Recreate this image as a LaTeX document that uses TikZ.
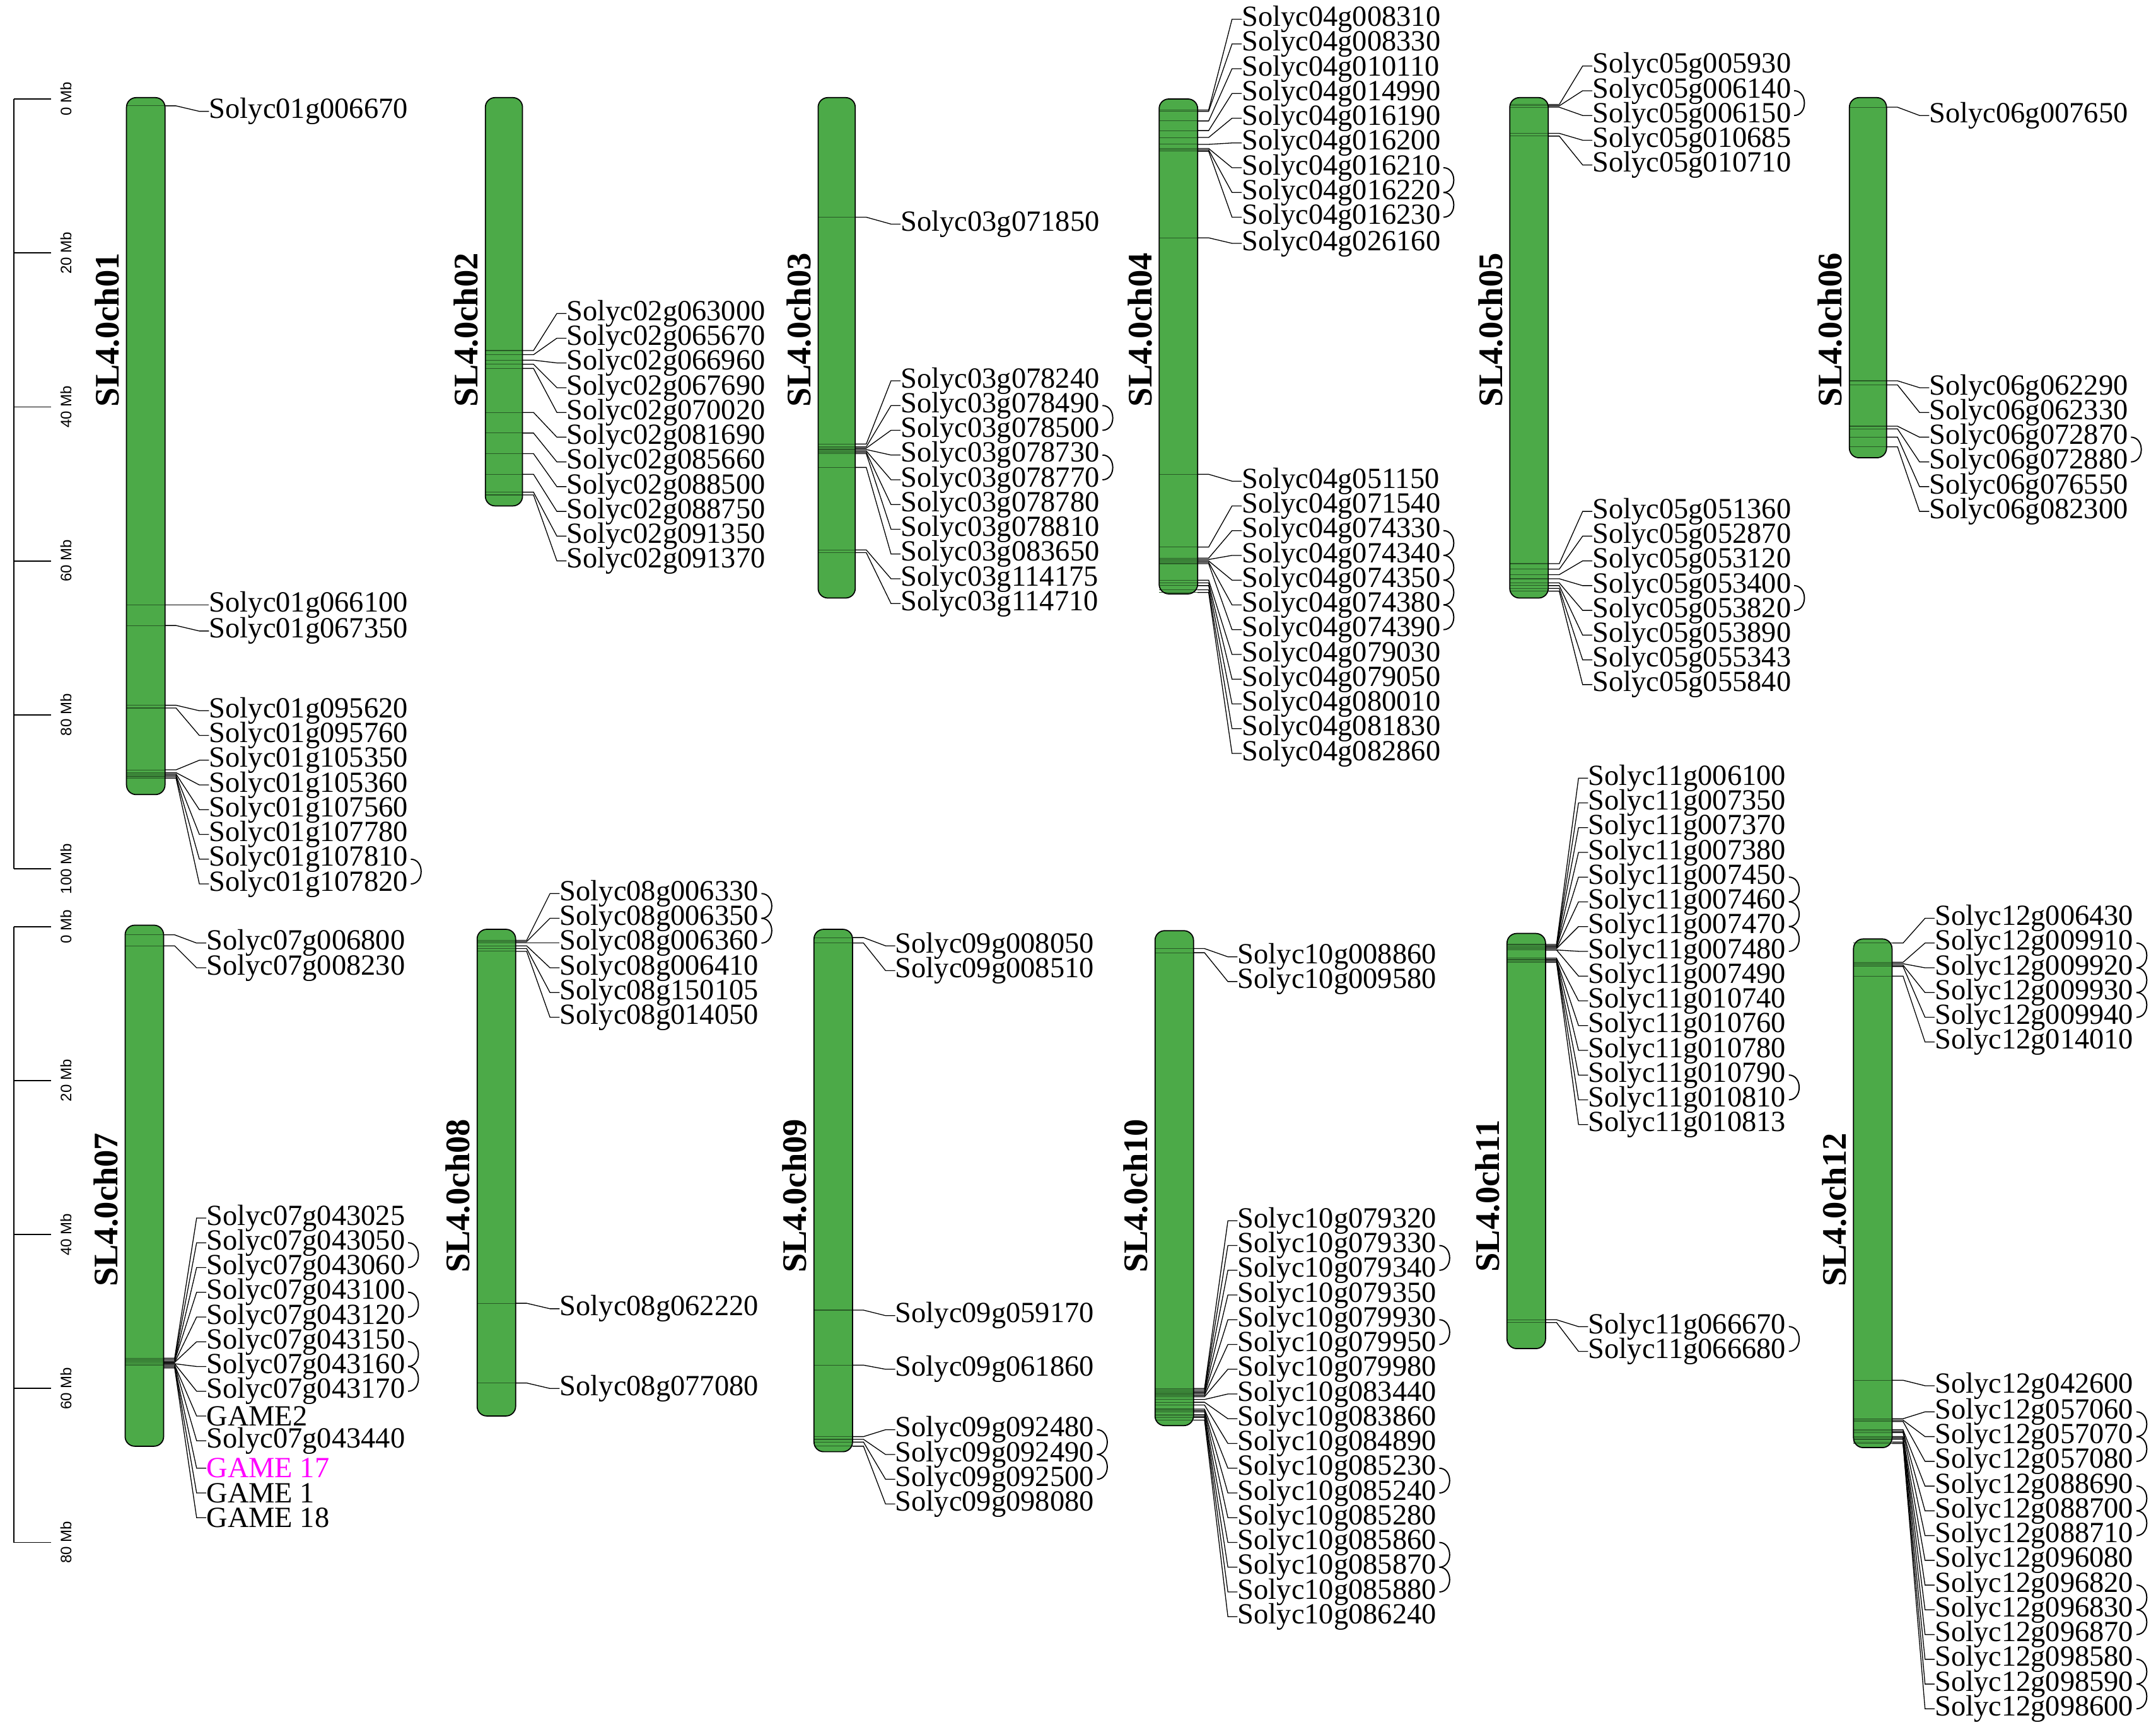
\documentclass[tikz,border=0pt]{standalone}
\usepackage{fontspec}
\setmainfont{Liberation Serif}
\newfontfamily\rulerfont{Liberation Sans}
\definecolor{chrgreen}{RGB}{76,170,72}
\definecolor{bandc}{RGB}{40,90,38}
\definecolor{gm}{RGB}{255,0,255}
\begin{document}
\begin{tikzpicture}[x=1pt,y=-1pt,
 lab/.style={anchor=west,inner sep=0pt,font=\fontsize{21.3}{21}\selectfont},
 conn/.style={line width=0.6pt,black},
 band/.style={line width=0.5pt,bandc},
 chl/.style={rotate=90,font=\bfseries\fontsize{25}{25}\selectfont,inner sep=0pt},
 rl/.style={rotate=90,font=\rulerfont\fontsize{11}{11}\selectfont,inner sep=0pt,anchor=center}]
\useasboundingbox (0,0) rectangle (1568,1258);
\def\bl{0}
\newcommand\C[6]{\def\bl{#1}\def\br{#2}\node[chl] (c#5) at ({#1-14},#6) {SL4.0ch#5};
 \fill[chrgreen,rounded corners=7pt] (#1,#3) rectangle (#2,#4);}
\newcommand\CO[4]{\draw[draw=black,line width=0.8pt,rounded corners=7pt] (#1,#3) rectangle (#2,#4);}
\newcommand\LL[4]{% band y, label x, label y, id
 \draw[band] (\bl,#1) -- (\br,#1);
 \node[lab] (l#4) at (#2,#3) {Solyc#4};
 \draw[conn] (\br,#1) -- ++(8,0) -- ([xshift=-7pt]l#4.west) -- (l#4.west);}
\newcommand\GG[6]{% band y, label x, label y, name, text, color
 \node[lab,text=#6] (#4) at (#2,#3) {#5};
 \draw[conn] (\br,#1) -- ++(8,0) -- ([xshift=-7pt]#4.west) -- (#4.west);}
\newcommand\B[2]{\draw[line width=0.9pt] ([xshift=2pt]l#1.east) .. controls ([xshift=12pt]l#1.east) and ([xshift=12pt]l#2.east) .. ([xshift=2pt]l#2.east);}
% rulers
\draw[line width=0.8pt] (10,72) -- (10,632);
\foreach \y/\t in {72/0 Mb,184/20 Mb,296/40 Mb,408/60 Mb,520/80 Mb,632/100 Mb}{\draw[line width=0.8pt] (10,\y) -- (37,\y); \node[rl] at (48,\y) {\t};}
\draw[line width=0.8pt] (10,674) -- (10,1122);
\foreach \y/\t in {674/0 Mb,786/20 Mb,898/40 Mb,1010/60 Mb,1122/80 Mb}{\draw[line width=0.8pt] (10,\y) -- (37,\y); \node[rl] at (48,\y) {\t};}
% ch01
\C{92}{120}{71}{578}{01}{240}
\LL{77}{152}{81}{01g006670}
\LL{440}{152}{440}{01g066100}
\LL{455}{152}{459}{01g067350}
\LL{513}{152}{517}{01g095620}
\LL{515}{152}{535}{01g095760}
\LL{560}{152}{553}{01g105350}
\LL{562}{152}{571}{01g105360}
\LL{563}{152}{589}{01g107560}
\LL{564}{152}{607}{01g107780}
\LL{565}{152}{625}{01g107810}
\LL{566}{152}{643}{01g107820}
\B{01g107810}{01g107820}
\CO{92}{120}{71}{578}
% ch02
\C{353}{380}{71}{368}{02}{240}
\LL{255}{412}{228}{02g063000}
\LL{258}{412}{246}{02g065670}
\LL{262}{412}{264}{02g066960}
\LL{265}{412}{282}{02g067690}
\LL{268}{412}{300}{02g070020}
\LL{300}{412}{318}{02g081690}
\LL{315}{412}{336}{02g085660}
\LL{330}{412}{354}{02g088500}
\LL{345}{412}{372}{02g088750}
\LL{358}{412}{390}{02g091350}
\LL{360}{412}{408}{02g091370}
\CO{353}{380}{71}{368}
% ch03
\C{595}{622}{71}{435}{03}{240}
\LL{158}{655}{163}{03g071850}
\LL{323}{655}{277}{03g078240}
\LL{325}{655}{295}{03g078490}
\LL{326}{655}{313}{03g078500}
\LL{327}{655}{331}{03g078730}
\LL{328}{655}{349}{03g078770}
\LL{329}{655}{367}{03g078780}
\LL{330}{655}{385}{03g078810}
\LL{340}{655}{403}{03g083650}
\LL{400}{655}{421}{03g114175}
\LL{402}{655}{439}{03g114710}
\B{03g078490}{03g078500}
\B{03g078730}{03g078770}
\CO{595}{622}{71}{435}
% ch04
\C{843}{871}{72}{432}{04}{240}
\LL{80}{903}{14}{04g008310}
\LL{81}{903}{32}{04g008330}
\LL{88}{903}{50}{04g010110}
\LL{95}{903}{68}{04g014990}
\LL{100}{903}{86}{04g016190}
\LL{105}{903}{104}{04g016200}
\LL{108}{903}{122}{04g016210}
\LL{109}{903}{140}{04g016220}
\LL{110}{903}{158}{04g016230}
\LL{173}{903}{177}{04g026160}
\LL{345}{903}{350}{04g051150}
\LL{398}{903}{368}{04g071540}
\LL{406}{903}{386}{04g074330}
\LL{407}{903}{404}{04g074340}
\LL{408}{903}{422}{04g074350}
\LL{409}{903}{440}{04g074380}
\LL{410}{903}{458}{04g074390}
\LL{422}{903}{476}{04g079030}
\LL{424}{903}{494}{04g079050}
\LL{426}{903}{512}{04g080010}
\LL{429}{903}{530}{04g081830}
\LL{431}{903}{548}{04g082860}
\B{04g016210}{04g016220}\B{04g016220}{04g016230}
\B{04g074330}{04g074340}\B{04g074340}{04g074350}\B{04g074350}{04g074380}\B{04g074380}{04g074390}
\CO{843}{871}{72}{432}
% ch05
\C{1098}{1126}{71}{435}{05}{240}
\LL{76}{1158}{48}{05g005930}
\LL{77}{1158}{66}{05g006140}
\LL{78}{1158}{84}{05g006150}
\LL{97}{1158}{102}{05g010685}
\LL{99}{1158}{120}{05g010710}
\LL{410}{1158}{372}{05g051360}
\LL{414}{1158}{390}{05g052870}
\LL{418}{1158}{408}{05g053120}
\LL{421}{1158}{426}{05g053400}
\LL{424}{1158}{444}{05g053820}
\LL{426}{1158}{462}{05g053890}
\LL{428}{1158}{480}{05g055343}
\LL{430}{1158}{498}{05g055840}
\B{05g006140}{05g006150}
\B{05g053400}{05g053820}
\CO{1098}{1126}{71}{435}
% ch06
\C{1345}{1372}{71}{333}{06}{240}
\LL{78}{1403}{84}{06g007650}
\LL{277}{1403}{282}{06g062290}
\LL{280}{1403}{300}{06g062330}
\LL{310}{1403}{318}{06g072870}
\LL{312}{1403}{336}{06g072880}
\LL{318}{1403}{354}{06g076550}
\LL{325}{1403}{372}{06g082300}
\B{06g072870}{06g072880}
\CO{1345}{1372}{71}{333}
% ch07
\C{91}{119}{673}{1052}{07}{880}
\LL{680}{150}{686}{07g006800}
\LL{688}{150}{704}{07g008230}
\LL{988}{150}{886}{07g043025}
\LL{989}{150}{904}{07g043050}
\LL{990}{150}{922}{07g043060}
\LL{990}{150}{940}{07g043100}
\LL{991}{150}{958}{07g043120}
\LL{991}{150}{976}{07g043150}
\LL{992}{150}{994}{07g043160}
\LL{992}{150}{1012}{07g043170}
\GG{993}{150}{1030}{g2}{GAME2}{black}
\LL{993}{150}{1048}{07g043440}
\GG{994}{150}{1068}{g17}{GAME 17}{gm}
\GG{994}{150}{1086}{g1}{GAME 1}{black}
\GG{995}{150}{1104}{g18}{GAME 18}{black}
\B{07g043050}{07g043060}\B{07g043100}{07g043120}\B{07g043150}{07g043160}\B{07g043160}{07g043170}
\CO{91}{119}{673}{1052}
% ch08
\C{347}{375}{676}{1030}{08}{870}
\LL{684}{407}{650}{08g006330}
\LL{685}{407}{668}{08g006350}
\LL{686}{407}{686}{08g006360}
\LL{688}{407}{704}{08g006410}
\LL{690}{407}{722}{08g150105}
\LL{692}{407}{740}{08g014050}
\LL{948}{407}{952}{08g062220}
\LL{1006}{407}{1010}{08g077080}
\B{08g006330}{08g006350}\B{08g006350}{08g006360}
\CO{347}{375}{676}{1030}
% ch09
\C{592}{620}{676}{1056}{09}{870}
\LL{682}{651}{688}{09g008050}
\LL{686}{651}{706}{09g008510}
\LL{953}{651}{957}{09g059170}
\LL{993}{651}{996}{09g061860}
\LL{1045}{651}{1040}{09g092480}
\LL{1047}{651}{1058}{09g092490}
\LL{1049}{651}{1076}{09g092500}
\LL{1052}{651}{1094}{09g098080}
\B{09g092480}{09g092490}\B{09g092490}{09g092500}
\CO{592}{620}{676}{1056}
% ch10
\C{840}{868}{677}{1037}{10}{870}
\LL{690}{900}{696}{10g008860}
\LL{693}{900}{714}{10g009580}
\LL{1010}{900}{888}{10g079320}
\LL{1011}{900}{906}{10g079330}
\LL{1012}{900}{924}{10g079340}
\LL{1013}{900}{942}{10g079350}
\LL{1014}{900}{960}{10g079930}
\LL{1015}{900}{978}{10g079950}
\LL{1016}{900}{996}{10g079980}
\LL{1018}{900}{1014}{10g083440}
\LL{1020}{900}{1032}{10g083860}
\LL{1022}{900}{1050}{10g084890}
\LL{1025}{900}{1068}{10g085230}
\LL{1026}{900}{1086}{10g085240}
\LL{1027}{900}{1104}{10g085280}
\LL{1029}{900}{1122}{10g085860}
\LL{1030}{900}{1140}{10g085870}
\LL{1031}{900}{1158}{10g085880}
\LL{1033}{900}{1176}{10g086240}
\B{10g079330}{10g079340}\B{10g079930}{10g079950}\B{10g085230}{10g085240}\B{10g085860}{10g085870}\B{10g085870}{10g085880}
\CO{840}{868}{677}{1037}
% ch11
\C{1096}{1124}{679}{981}{11}{870}
\LL{687}{1155}{566}{11g006100}
\LL{688}{1155}{584}{11g007350}
\LL{688}{1155}{602}{11g007370}
\LL{689}{1155}{620}{11g007380}
\LL{689}{1155}{638}{11g007450}
\LL{690}{1155}{656}{11g007460}
\LL{690}{1155}{674}{11g007470}
\LL{691}{1155}{692}{11g007480}
\LL{691}{1155}{710}{11g007490}
\LL{697}{1155}{728}{11g010740}
\LL{698}{1155}{746}{11g010760}
\LL{698}{1155}{764}{11g010780}
\LL{699}{1155}{782}{11g010790}
\LL{699}{1155}{800}{11g010810}
\LL{700}{1155}{818}{11g010813}
\LL{960}{1155}{965}{11g066670}
\LL{962}{1155}{983}{11g066680}
\B{11g007450}{11g007460}\B{11g007460}{11g007470}\B{11g007470}{11g007480}\B{11g010790}{11g010810}\B{11g066670}{11g066680}
\CO{1096}{1124}{679}{981}
% ch12
\C{1348}{1376}{683}{1053}{12}{880}
\LL{686}{1407}{668}{12g006430}
\LL{700}{1407}{686}{12g009910}
\LL{701}{1407}{704}{12g009920}
\LL{702}{1407}{722}{12g009930}
\LL{703}{1407}{740}{12g009940}
\LL{710}{1407}{758}{12g014010}
\LL{1004}{1407}{1008}{12g042600}
\LL{1032}{1407}{1027}{12g057060}
\LL{1033}{1407}{1045}{12g057070}
\LL{1034}{1407}{1063}{12g057080}
\LL{1040}{1407}{1081}{12g088690}
\LL{1041}{1407}{1099}{12g088700}
\LL{1042}{1407}{1117}{12g088710}
\LL{1045}{1407}{1135}{12g096080}
\LL{1046}{1407}{1153}{12g096820}
\LL{1046}{1407}{1171}{12g096830}
\LL{1047}{1407}{1189}{12g096870}
\LL{1049}{1407}{1207}{12g098580}
\LL{1050}{1407}{1225}{12g098590}
\LL{1050}{1407}{1243}{12g098600}
\B{12g009910}{12g009920}\B{12g009920}{12g009930}\B{12g009930}{12g009940}
\B{12g057060}{12g057070}\B{12g057070}{12g057080}\B{12g088690}{12g088700}\B{12g088700}{12g088710}
\B{12g096820}{12g096830}\B{12g096830}{12g096870}\B{12g098580}{12g098590}\B{12g098590}{12g098600}
\CO{1348}{1376}{683}{1053}
\end{tikzpicture}
\end{document}
